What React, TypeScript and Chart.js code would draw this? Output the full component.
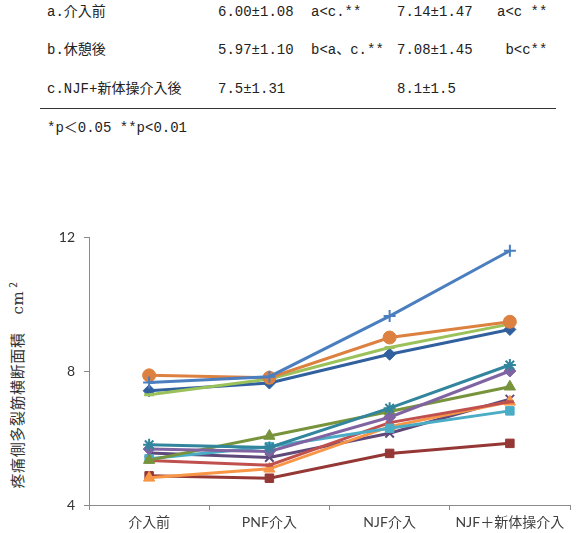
import React, { useEffect, useRef } from "react";
import { Chart, registerables } from "chart.js";
Chart.register(...registerables);

const categories = ["介入前", "PNF介入", "NJF介入", "NJF＋新体操介入"];
const yTickValues = [4, 8, 12];

const blueCross = [7.66, 7.83, 9.64, 11.59];
const orangeCircle = [7.87, 7.8, 9.0, 9.47];
const lightGreen = [7.29, 7.76, 8.7, 9.4];
const darkBlueDiamond = [7.41, 7.64, 8.5, 9.24];
const tealStar = [5.8, 5.72, 6.89, 8.18];
const purpleDiamond = [5.67, 5.6, 6.62, 8.0];
const oliveTriangle = [5.34, 6.06, 6.79, 7.53];
const cyanSquare = [5.38, 5.74, 6.29, 6.81];
const redLine = [5.33, 5.19, 6.46, 7.08];
const orangeTriangle = [4.81, 5.08, 6.34, 7.08];
const darkRedSquare = [4.87, 4.8, 5.54, 5.84];
const purpleX = [5.55, 5.42, 6.14, 7.16];

const tableLabels = ["a.介入前", "b.休憩後", "c.NJF+新体操介入後"];
const tableCol1 = ["6.00±1.08", "5.97±1.10", "7.5±1.31"];
const tableCol2 = ["a<c.**", "b<a、c.**", ""];
const tableCol3 = ["7.14±1.47", "7.08±1.45", "8.1±1.5"];
const tableCol4 = ["a<c **", " b<c**", ""];
const footnote = "*p＜0.05 **p<0.01";

const yTitle = "疼痛側多裂筋横断面積";

type S = { data: number[]; color: string; style: any; r: number; bw: number };
const series: S[] = [
  { data: blueCross, color: "#4a7ebf", style: "cross", r: 6, bw: 2 },
  { data: orangeCircle, color: "#dc8140", style: "circle", r: 6.5, bw: 1 },
  { data: lightGreen, color: "#9bc15b", style: "line", r: 5, bw: 3 },
  { data: darkBlueDiamond, color: "#31609e", style: "rectRot", r: 6, bw: 1 },
  { data: tealStar, color: "#31859c", style: "star", r: 6, bw: 2 },
  { data: purpleDiamond, color: "#8064a2", style: "rectRot", r: 6, bw: 1 },
  { data: oliveTriangle, color: "#77933c", style: "triangle", r: 6.5, bw: 1 },
  { data: cyanSquare, color: "#4bacc6", style: "rect", r: 6, bw: 1 },
  { data: redLine, color: "#c0504d", style: "line", r: 4, bw: 3 },
  { data: orangeTriangle, color: "#f79646", style: "triangle", r: 6.5, bw: 1 },
  { data: darkRedSquare, color: "#953735", style: "rect", r: 6, bw: 1 },
  { data: purpleX, color: "#5f497a", style: "crossRot", r: 6, bw: 2 },
];

const tableFont = "'Liberation Mono', 'Noto Sans CJK JP', monospace";

function App() {
  const ref = useRef<HTMLCanvasElement | null>(null);
  useEffect(() => {
    if (!ref.current) return;
    const chart = new Chart(ref.current, {
      type: "line",
      data: {
        labels: categories,
        datasets: series.map((s) => ({
          data: s.data,
          borderColor: s.color,
          backgroundColor: s.color,
          borderWidth: 3,
          pointStyle: s.style,
          pointRadius: s.r,
          pointBorderWidth: s.bw,
          pointBackgroundColor: s.color,
          pointBorderColor: s.color,
          tension: 0,
          fill: false,
        })),
      },
      options: {
        responsive: false,
        animation: false,
        devicePixelRatio: 1,
        layout: { padding: { top: 22, right: 16, left: 0, bottom: 0 } },
        plugins: { legend: { display: false }, tooltip: { enabled: false } },
        scales: {
          x: {
            type: "category",
            offset: true,
            grid: {
              display: true,
              drawOnChartArea: false,
              drawTicks: true,
              tickLength: 5,
              color: "#8a8a8a",
              offset: true,
            },
            border: { color: "#8a8a8a", width: 1 },
            ticks: {
              color: "#404040",
              padding: 4,
              font: { family: "Lato, 'Noto Sans CJK JP', sans-serif", size: 14 },
            },
            afterFit: (s: any) => {
              s.height = 28;
            },
          },
          y: {
            min: 4,
            max: 12,
            grid: {
              display: true,
              drawOnChartArea: false,
              drawTicks: true,
              tickLength: 5,
              color: "#8a8a8a",
            },
            border: { color: "#8a8a8a", width: 1 },
            ticks: {
              color: "#333333",
              padding: 9,
              font: { family: "Lato, sans-serif", size: 14 },
            },
            afterBuildTicks: (s: any) => {
              s.ticks = yTickValues.map((v) => ({ value: v }));
            },
            afterFit: (s: any) => {
              s.width = 89;
            },
          },
        },
      },
    });
    return () => chart.destroy();
  }, []);

  const cell = (text: string, x: number, y: number, key: string) => (
    <div
      key={key}
      style={{
        position: "absolute",
        left: x,
        top: y - 10,
        lineHeight: "20px",
        fontSize: 14,
        fontFamily: tableFont,
        color: "#222",
        whiteSpace: "pre",
      }}
    >
      {text}
    </div>
  );

  const rowsY = [12, 50, 89];

  return (
    <div style={{ position: "absolute", left: 0, top: 0, width: 586, height: 533, background: "#fff", overflow: "hidden" }}>
      {tableLabels.map((t, i) => cell(t, 47, rowsY[i], "l" + i))}
      {tableCol1.map((t, i) => cell(t, 218, rowsY[i], "a" + i))}
      {tableCol2.map((t, i) => cell(t, 311, rowsY[i], "b" + i))}
      {tableCol3.map((t, i) => cell(t, 397, rowsY[i], "c" + i))}
      {tableCol4.map((t, i) => cell(t, 497, rowsY[i], "d" + i))}
      <div style={{ position: "absolute", left: 40, top: 108, width: 516, height: 1, background: "#333" }} />
      {cell(footnote, 47, 128, "fn")}
      <div
        style={{
          position: "absolute",
          left: 15,
          top: 385,
          transform: "translate(-50%, -50%) rotate(-90deg)",
          whiteSpace: "nowrap",
          fontFamily: "'Noto Sans CJK JP', sans-serif",
          fontSize: 15,
          letterSpacing: "0.6px",
          color: "#333",
          lineHeight: "20px",
        }}
      >
        {yTitle}
        <span style={{ marginLeft: 18, fontFamily: "'DejaVu Serif', serif" }}>cm</span>
        <sup style={{ fontSize: 10, marginLeft: 3 }}>2</sup>
      </div>
      <canvas
        ref={ref}
        width={586}
        height={318}
        style={{ position: "absolute", left: 0, top: 215, width: 586, height: 318, display: "block" }}
      />
    </div>
  );
}

export default App;
